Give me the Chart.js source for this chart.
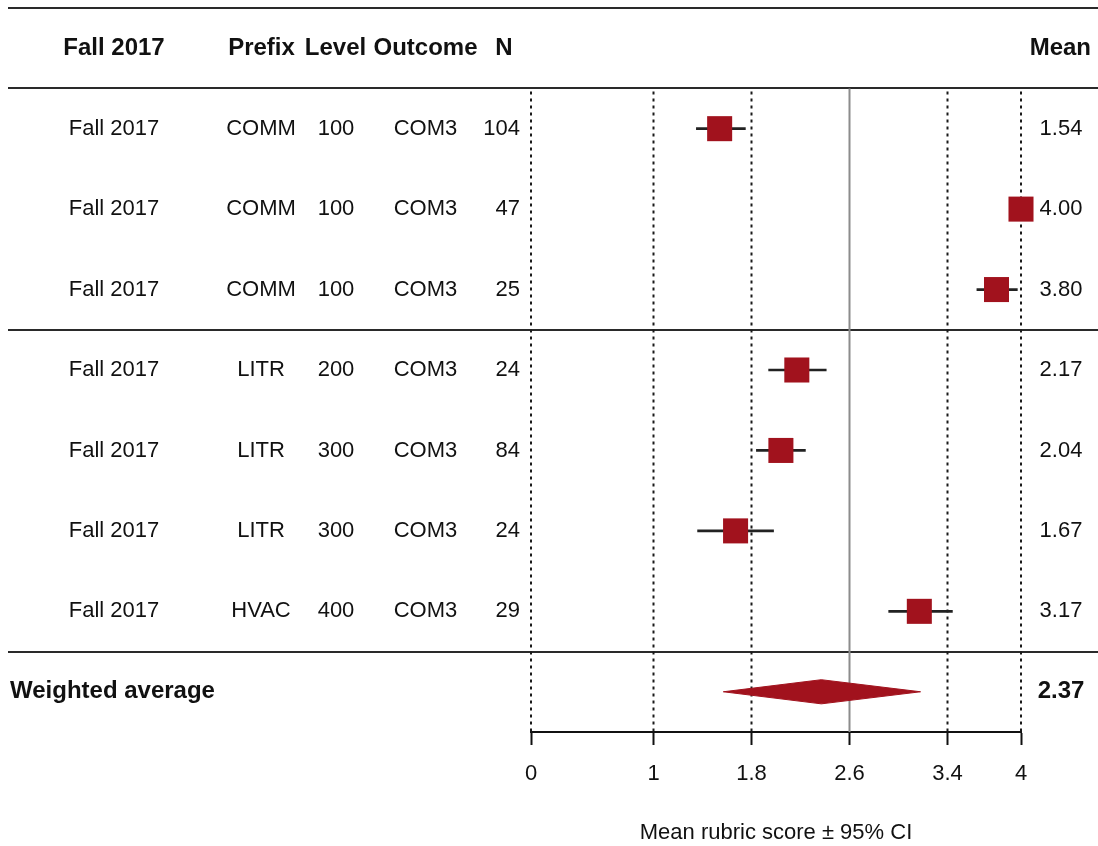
<!DOCTYPE html>
<html>
<head>
<meta charset="utf-8">
<script src="https://cdn.jsdelivr.net/npm/chart.js@4/dist/chart.umd.min.js"></script>
<style>
  html, body { margin: 0; padding: 0; background: #fff; }
  #wrap { width: 1098px; height: 846px; position: relative; }
</style>
</head>
<body>
<div id="wrap"><canvas id="c"></canvas></div>
<script>
// ---- data ----
const periods  = ["Fall 2017", "Fall 2017", "Fall 2017", "Fall 2017", "Fall 2017", "Fall 2017", "Fall 2017"];
const prefixes = ["COMM", "COMM", "COMM", "LITR", "LITR", "LITR", "HVAC"];
const levels   = ["100", "100", "100", "200", "300", "300", "400"];
const outcomes = ["COM3", "COM3", "COM3", "COM3", "COM3", "COM3", "COM3"];
const ns       = [104, 47, 25, 24, 84, 24, 29];
const means    = [1.54, 4.00, 3.80, 2.17, 2.04, 1.67, 3.17];
const ciLow    = [1.35, 4.00, 3.64, 1.94, 1.84, 1.36, 2.92];
const ciHigh   = [1.75, 4.00, 3.97, 2.41, 2.24, 1.98, 3.44];
const summaryLabel = "Weighted average";
const summaryMean  = 2.37;
const summaryLow   = 1.57;
const summaryHigh  = 3.18;
const headers = ["Fall 2017", "Prefix", "Level", "Outcome", "N", "Mean"];
const xTicks = [0, 1, 1.8, 2.6, 3.4, 4];
const dottedRefs = [0, 1, 1.8, 3.4, 4];
const solidRef = 2.6;
const xTitle = "Mean rubric score \u00b1 95% CI";

const RED = '#a1121d';
const INK = '#111111';
const FONT = '"Liberation Sans", Arial, Helvetica, sans-serif';
const summaryRow = means.length;          // row index of the summary
const separators = [-1.5, -0.5, 2.5, 6.5]; // horizontal rule positions (row units)

// ---- plugin: reference lines (behind marks) and table text (on top) ----
const forestPlugin = {
  id: 'forest',
  beforeDatasetsDraw(chart) {
    const {ctx, scales: {x, y}} = chart;
    ctx.save();
    // horizontal rules
    ctx.strokeStyle = '#2a2a2a';
    ctx.lineWidth = 2;
    separators.forEach(v => {
      const py = Math.round(y.getPixelForValue(v));
      ctx.beginPath(); ctx.moveTo(8, py); ctx.lineTo(1098, py); ctx.stroke();
    });
    const yTop = y.getPixelForValue(-0.5);
    const yBot = y.getPixelForValue(summaryRow + 0.5);
    // solid reference
    ctx.strokeStyle = '#8c8c8c';
    ctx.lineWidth = 2;
    let px = x.getPixelForValue(solidRef);
    ctx.beginPath(); ctx.moveTo(px, yTop); ctx.lineTo(px, yBot); ctx.stroke();
    // dotted references
    ctx.strokeStyle = '#1a1a1a';
    ctx.lineWidth = 2;
    ctx.setLineDash([3, 4]);
    dottedRefs.forEach(v => {
      const p = x.getPixelForValue(v);
      ctx.beginPath(); ctx.moveTo(p, yTop + 3); ctx.lineTo(p, yBot); ctx.stroke();
    });
    ctx.restore();
  },
  afterDraw(chart) {
    const {ctx, scales: {y}} = chart;
    ctx.save();
    ctx.fillStyle = INK;
    ctx.textBaseline = 'middle';
    // header
    const hy = y.getPixelForValue(-1);
    ctx.font = 'bold 24px ' + FONT;
    ctx.textAlign = 'center';
    ctx.fillText(headers[0], 114, hy);
    ctx.fillText(headers[1], 261.5, hy);
    ctx.fillText(headers[2], 335.5, hy);
    ctx.fillText(headers[3], 425.5, hy);
    ctx.fillText(headers[4], 504, hy);
    ctx.textAlign = 'right';
    ctx.fillText(headers[5], 1091, hy);
    // rows
    ctx.font = '22px ' + FONT;
    means.forEach((m, i) => {
      const py = y.getPixelForValue(i);
      ctx.textAlign = 'center';
      ctx.fillText(periods[i], 114, py);
      ctx.fillText(prefixes[i], 261, py);
      ctx.fillText(levels[i], 336, py);
      ctx.fillText(outcomes[i], 425.5, py);
      ctx.textAlign = 'right';
      ctx.fillText(String(ns[i]), 520, py);
      ctx.textAlign = 'center';
      ctx.fillText(m.toFixed(2), 1061, py);
    });
    // summary
    const sy = y.getPixelForValue(summaryRow);
    ctx.font = 'bold 24px ' + FONT;
    ctx.textAlign = 'left';
    ctx.fillText(summaryLabel, 10, sy);
    ctx.textAlign = 'center';
    ctx.fillText(summaryMean.toFixed(2), 1061, sy);
    ctx.restore();
  }
};

const rows = means.map((_, i) => i);
const diamondHalf = 0.15;

new Chart(document.getElementById('c'), {
  type: 'scatter',
  data: {
    datasets: [
      {
        type: 'bar',
        indexAxis: 'y',
        data: rows.map(i => ({ x: [ciLow[i], ciHigh[i]], y: i })),
        backgroundColor: '#222222',
        borderWidth: 0,
        barThickness: 2,
        grouped: false,
        clip: false,
        order: 3
      },
      {
        type: 'scatter',
        data: rows.map(i => ({ x: means[i], y: i })),
        pointStyle: 'rect',
        pointRadius: 17.7,
        pointHoverRadius: 17.7,
        backgroundColor: RED,
        borderColor: RED,
        borderWidth: 0,
        clip: false,
        order: 1
      },
      {
        type: 'line',
        data: [
          { x: summaryLow, y: summaryRow },
          { x: summaryMean, y: summaryRow - diamondHalf },
          { x: summaryHigh, y: summaryRow },
          { x: summaryMean, y: summaryRow + diamondHalf },
          { x: summaryLow, y: summaryRow }
        ],
        showLine: true,
        fill: 'shape',
        tension: 0,
        pointRadius: 0,
        borderWidth: 1,
        borderColor: RED,
        backgroundColor: RED,
        clip: false,
        order: 1
      }
    ]
  },
  options: {
    responsive: true,
    maintainAspectRatio: false,
    animation: false,
    events: [],
    layout: { autoPadding: false, padding: { left: 531, right: 77, top: 8, bottom: 0 } },
    plugins: { legend: { display: false }, tooltip: { enabled: false } },
    scales: {
      x: {
        type: 'linear',
        offset: false,
        min: 0, max: 4,
        afterBuildTicks: s => { s.ticks = xTicks.map(v => ({ value: v })); },
        afterFit: s => { s.height = 114; },
        ticks: {
          color: INK,
          font: { family: FONT, size: 22 },
          padding: 16,
          maxRotation: 0,
          autoSkip: false,
          callback: v => String(v)
        },
        grid: {
          display: true,
          offset: false,
          drawOnChartArea: false,
          drawTicks: true,
          tickLength: 13,
          tickWidth: 2,
          tickColor: INK
        },
        border: { display: true, color: INK, width: 2 },
        title: {
          display: true,
          text: xTitle,
          color: INK,
          font: { family: FONT, size: 22 },
          padding: { top: 0, bottom: 0 }
        }
      },
      y: {
        type: 'linear',
        display: false,
        offset: false,
        reverse: true,
        min: -1.5,
        max: summaryRow + 0.5,
        grid: { offset: false }
      }
    }
  },
  plugins: [forestPlugin]
});
</script>
</body>
</html>
